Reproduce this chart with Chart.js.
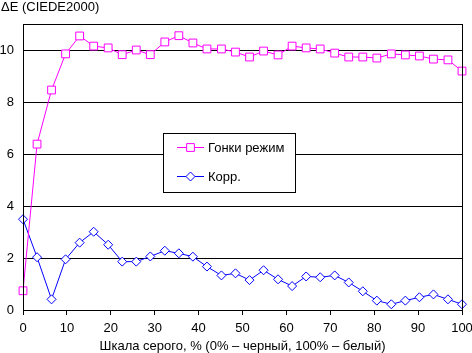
<!DOCTYPE html>
<html><head><meta charset="utf-8">
<script src="https://cdn.jsdelivr.net/npm/chart.js@4/dist/chart.umd.min.js"></script>
<style>html,body{margin:0;padding:0;background:#fff;overflow:hidden}</style>
</head><body>
<canvas id="c" width="472" height="353"></canvas>
<script>
// Grey level, % (0% = black, 100% = white)
const greyLevels = [0, 3.2, 6.5, 9.7, 12.9, 16.1, 19.4, 22.6, 25.8, 29.0, 32.3, 35.5, 38.7, 41.9, 45.2, 48.4,
  51.6, 54.8, 58.1, 61.3, 64.5, 67.7, 71.0, 74.2, 77.4, 80.6, 83.9, 87.1, 90.3, 93.5, 96.8, 100];
const racingMode = [0.74, 6.38, 8.46, 9.85, 10.54, 10.15, 10.08, 9.82, 10.0, 9.82, 10.31, 10.55, 10.27, 10.04, 10.04, 9.92,
  9.73, 9.96, 9.81, 10.15, 10.08, 10.04, 9.88, 9.73, 9.73, 9.69, 9.85, 9.81, 9.77, 9.65, 9.62, 9.19];
const corrected = [3.49, 2.03, 0.41, 1.95, 2.59, 3.01, 2.51, 1.86, 1.86, 2.06, 2.28, 2.18, 2.05, 1.67, 1.33, 1.41,
  1.15, 1.53, 1.18, 0.92, 1.29, 1.26, 1.33, 1.06, 0.72, 0.36, 0.22, 0.36, 0.49, 0.60, 0.41, 0.22];
const seriesNames = ['Гонки режим', 'Корр.'];
const yTickValues = [0, 2, 4, 6, 8, 10];
const xTickValues = [0, 10, 20, 30, 40, 50, 60, 70, 80, 90, 100];
const yTitle = 'ΔE (CIEDE2000)';
const xTitle = 'Шкала серого, % (0% – черный, 100% – белый)';

const FONT = '"Liberation Sans", Arial, sans-serif';
const FS = 13;
const toPts = ys => greyLevels.map((x, i) => ({x, y: ys[i]}));

const extras = {
  id: 'extras',
  afterDatasetsDraw(chart) {
    const {ctx, chartArea: a} = chart;
    ctx.save();
    ctx.strokeStyle = '#000'; ctx.lineWidth = 1;
    ctx.strokeRect(Math.round(a.left) + 0.5, Math.round(a.top) + 0.5, Math.round(a.right - a.left), Math.round(a.bottom - a.top));
    // legend
    const bx = 163.5, by = 133.5, bw = 132, bh = 59;
    ctx.fillStyle = '#fff'; ctx.fillRect(bx, by, bw, bh);
    ctx.strokeRect(bx, by, bw, bh);
    ctx.font = FS + 'px ' + FONT;
    ctx.textBaseline = 'middle'; ctx.textAlign = 'left';
    const rows = [147.5, 176.5];
    chart.data.datasets.forEach((ds, i) => {
      const y = rows[i];
      ctx.strokeStyle = ds.borderColor; ctx.lineWidth = 1;
      ctx.beginPath(); ctx.moveTo(177, y); ctx.lineTo(204, y); ctx.stroke();
      ctx.fillStyle = '#fff'; ctx.strokeStyle = ds.borderColor;
      Chart.helpers.drawPoint(ctx, {pointStyle: ds.pointStyle, radius: ds.pointRadius, borderWidth: 1}, 190.5, y);
      ctx.fillStyle = '#000';
      ctx.fillText(ds.label, 208, y + 0.5);
    });
    // titles
    ctx.fillStyle = '#000';
    ctx.textBaseline = 'alphabetic'; ctx.textAlign = 'left';
    ctx.fillText(yTitle, 1, 10.5);
    ctx.textAlign = 'center';
    ctx.fillText(xTitle, (a.left + a.right) / 2, 350);
    ctx.restore();
  }
};

new Chart(document.getElementById('c'), {
  type: 'line',
  data: {
    datasets: [
      {label: seriesNames[0], data: toPts(racingMode), borderColor: '#FF00FF', backgroundColor: '#FFFFFF',
       pointStyle: 'rect', pointRadius: 5.5, pointBorderWidth: 1, borderWidth: 1, tension: 0, clip: false},
      {label: seriesNames[1], data: toPts(corrected), borderColor: '#0000FF', backgroundColor: '#FFFFFF',
       pointStyle: 'rectRot', pointRadius: 4.5, pointBorderWidth: 1, borderWidth: 1, tension: 0, clip: false}
    ]
  },
  options: {
    responsive: false, animation: false, devicePixelRatio: 1,
    layout: {padding: {left: 0, top: 24, right: 10, bottom: 0}},
    plugins: {legend: {display: false}, tooltip: {enabled: false}},
    elements: {point: {hoverRadius: 5}},
    scales: {
      x: {
        type: 'linear', min: 0, max: 100,
        afterFit: s => { s.height = 43; s.paddingLeft = 0; s.paddingRight = 0; },
        afterBuildTicks: s => { s.ticks = xTickValues.map(v => ({value: v})); },
        grid: {drawOnChartArea: false, drawTicks: true, tickLength: 5, color: '#000'},
        border: {color: '#000', width: 1},
        ticks: {color: '#000', font: {family: FONT, size: FS}, padding: 6, maxRotation: 0}
      },
      y: {
        type: 'linear', min: 0, max: 11,
        afterFit: s => { s.width = 23; s.paddingTop = 0; s.paddingBottom = 0; },
        afterBuildTicks: s => { s.ticks = yTickValues.map(v => ({value: v})); },
        grid: {color: '#000', drawTicks: false},
        border: {color: '#000', width: 1},
        ticks: {color: '#000', font: {family: FONT, size: FS}, padding: 9}
      }
    }
  },
  plugins: [extras]
});
</script>
</body></html>
